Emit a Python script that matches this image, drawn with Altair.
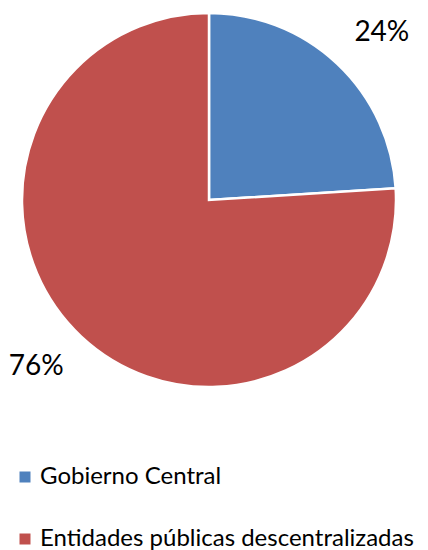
import altair as alt
import pandas as pd

categories = ["Gobierno Central", "Entidades públicas descentralizadas"]
values = [24, 76]
labels = ["24%", "76%"]
colors = ["#4F81BD", "#C0504D"]

df = pd.DataFrame({"cat": categories, "value": values, "label": labels, "idx": [0, 1]})

base = alt.Chart(df).encode(
    theta=alt.Theta("value:Q", stack=True),
    order=alt.Order("idx:Q"),
)

pie = base.mark_arc(outerRadius=187, stroke="white", strokeWidth=2.5).encode(
    x=alt.value(201),
    y=alt.value(189),
    color=alt.Color(
        "cat:N",
        scale=alt.Scale(domain=categories, range=colors),
        sort=categories,
        legend=alt.Legend(
            title=None,
            orient="none",
            legendX=5,
            legendY=454,
            padding=0,
            symbolType="square",
            symbolSize=121,
            symbolStrokeWidth=0,
            labelFontSize=24,
            labelFont="Lato",
            labelColor="#000000",
            labelOffset=3,
            rowPadding=38,
            labelLimit=500,
        ),
    ),
)

text = base.mark_text(radius=240, thetaOffset=0.05, fontSize=28, font="Lato", color="#000000").encode(
    x=alt.value(201),
    y=alt.value(189),
    text="label:N",
)

chart = (
    alt.layer(pie, text)
    .properties(width=412, height=541, padding=0)
    .configure_view(stroke=None)
)

chart.save("out.html", embed_options={"renderer": "svg", "actions": False})
